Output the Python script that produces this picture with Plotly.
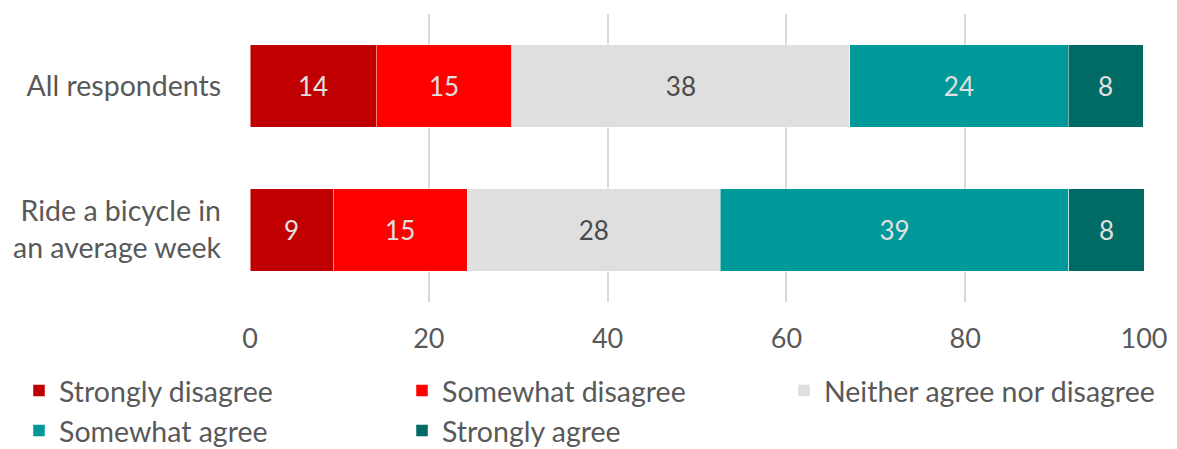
import plotly.graph_objects as go

# Survey responses (percent of respondents)
groups = ["All respondents", "Ride a bicycle in<br>an average week"]
responses = [
    "Strongly disagree",
    "Somewhat disagree",
    "Neither agree nor disagree",
    "Somewhat agree",
    "Strongly agree",
]
strongly_disagree = [14.1, 9.3]
somewhat_disagree = [15.2, 15.0]
neither = [37.8, 28.3]
somewhat_agree = [24.4, 39.0]
strongly_agree = [8.4, 8.4]

series = [strongly_disagree, somewhat_disagree, neither, somewhat_agree, strongly_agree]
colors = ["#C00000", "#FF0000", "#DFDFDF", "#009999", "#006A64"]
label_colors = ["#E0E0E0", "#E0E0E0", "#4A4A4A", "#E0E0E0", "#E0E0E0"]
# legend grid: two rows, three columns
legend_slots = ["legend", "legend", "legend3", "legend2", "legend2"]

FONT = "Lato, 'Open Sans', sans-serif"
GREY = "#595959"

fig = go.Figure()
for name, vals, col, lcol, lg in zip(responses, series, colors, label_colors, legend_slots):
    fig.add_trace(go.Bar(
        y=groups,
        x=vals,
        name=name,
        orientation="h",
        width=0.57,
        marker=dict(color=col, line=dict(color="rgba(255,255,255,0.6)", width=0.8)),
        texttemplate="%{x:.0f}",
        textposition="inside",
        insidetextanchor="middle",
        textangle=0,
        constraintext="none",
        textfont=dict(family=FONT, size=26, color=lcol),
        hoverinfo="skip",
        legend=lg,
    ))

legend_common = dict(
    orientation="h",
    xref="container",
    yref="container",
    xanchor="left",
    yanchor="middle",
    font=dict(family=FONT, size=28.5, color=GREY),
    entrywidth=338,
    entrywidthmode="pixels",
    bgcolor="rgba(0,0,0,0)",
    traceorder="normal",
)
row1_y = 1 - 391 / 449
row2_y = 1 - 431 / 449

fig.update_layout(
    width=1177,
    height=449,
    margin=dict(l=250, r=33, t=14, b=147, autoexpand=False),
    paper_bgcolor="white",
    plot_bgcolor="white",
    barmode="stack",
    font=dict(family=FONT, color=GREY),
    showlegend=True,
    legend=dict(legend_common, x=19 / 1177, y=row1_y),
    legend2=dict(legend_common, x=19 / 1177, y=row2_y),
    legend3=dict(legend_common, x=784 / 1177, y=row1_y),
    xaxis=dict(
        range=[0, 100],
        tickvals=[0, 20, 40, 60, 80, 100],
        showgrid=True,
        gridcolor="#D9D9D9",
        gridwidth=1.5,
        zeroline=False,
        showline=False,
        ticks="outside",
        ticklen=0,
        ticklabelstandoff=13,
        tickfont=dict(family=FONT, size=27, color=GREY),
        fixedrange=True,
    ),
    yaxis=dict(
        type="category",
        range=[1.5, -0.5],
        showgrid=False,
        zeroline=False,
        showline=False,
        ticklabelstandoff=28,
        tickfont=dict(family=FONT, size=28.5, color=GREY),
        fixedrange=True,
    ),
)

fig.write_html("out.html")
